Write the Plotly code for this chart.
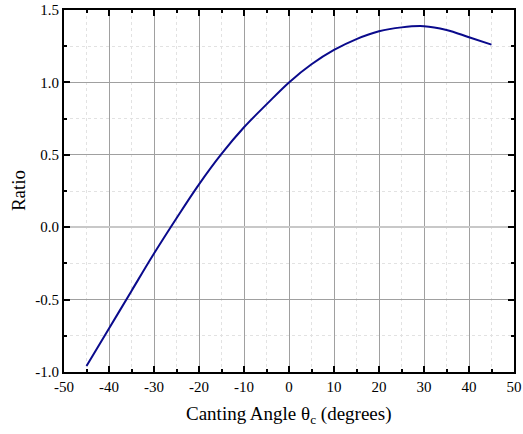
import plotly.graph_objects as go

angle_deg = [-45, -40, -35, -30, -25, -20, -15, -10, -5, 0, 5, 10, 15, 20, 25, 30, 35, 40, 45]
ratio = [-0.959, -0.700, -0.440, -0.182, 0.062, 0.296, 0.506, 0.690, 0.848, 1.000, 1.125, 1.224, 1.299, 1.353, 1.380, 1.388, 1.362, 1.312, 1.261]

x_tickvals = [-50, -40, -30, -20, -10, 0, 10, 20, 30, 40, 50]
x_ticktext = ["-50", "-40", "-30", "-20", "-10", "0", "10", "20", "30", "40", "50"]
y_tickvals = [-1.0, -0.5, 0.0, 0.5, 1.0, 1.5]
y_ticktext = ["-1.0", "-0.5", "0.0", "0.5", "1.0", "1.5"]

font_family = "Liberation Serif, Times New Roman, serif"

fig = go.Figure()
fig.add_trace(go.Scatter(
    x=angle_deg, y=ratio, mode="lines",
    line=dict(color="#0a0a8c", width=2, shape="spline", smoothing=1.0),
    showlegend=False, hoverinfo="skip",
))

axis_common = dict(
    showline=True, linecolor="black", linewidth=2, mirror="allticks",
    ticks="inside", ticklen=6, tickwidth=1.5, tickcolor="black",
    showgrid=True, gridcolor="#a0a0a0", gridwidth=1,
    tickfont=dict(family=font_family, size=15, color="black"),
    automargin=False,
)

fig.update_xaxes(
    range=[-50, 50], tickvals=x_tickvals, ticktext=x_ticktext,
    zeroline=False,
    minor=dict(dtick=5, tick0=0, ticks="inside", ticklen=3, tickcolor="black",
               showgrid=True, gridcolor="#e2e2e2", griddash="dot", gridwidth=1),
    **axis_common,
)
fig.update_yaxes(
    range=[-1.0, 1.5], tickvals=y_tickvals, ticktext=y_ticktext,
    zeroline=True, zerolinecolor="#c8c8c8", zerolinewidth=2,
    minor=dict(dtick=0.25, tick0=0, ticks="inside", ticklen=3, tickcolor="black",
               showgrid=True, gridcolor="#e2e2e2", griddash="dot", gridwidth=1),
    **axis_common,
)

fig.add_annotation(
    text="Canting Angle θ<sub>c</sub> (degrees)", xref="paper", yref="paper",
    x=0.5, y=-0.081, xanchor="center", yanchor="top", showarrow=False,
    font=dict(family=font_family, size=19, color="black"),
)
fig.add_annotation(
    text="Ratio", xref="paper", yref="paper", textangle=-90,
    x=-0.102, y=0.5, xanchor="center", yanchor="middle", showarrow=False,
    font=dict(family=font_family, size=19, color="black"),
)

fig.update_layout(
    width=523, height=434,
    margin=dict(l=64, r=9, t=10, b=62),
    paper_bgcolor="white", plot_bgcolor="white",
    font=dict(family=font_family, color="black"),
)

fig.write_html("out.html", config={"displayModeBar": False},
               post_script="document.body.style.margin='0px';")
